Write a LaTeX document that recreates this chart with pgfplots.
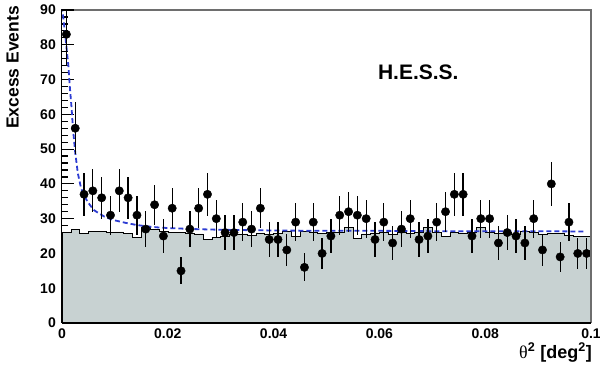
\documentclass[border=0pt]{standalone}
\usepackage{fontspec}
\setmainfont{Liberation Sans}
\newfontfamily\symfont{Liberation Serif}
\usepackage{pgfplots}
\pgfplotsset{compat=1.18}
\usepackage{pgfplotstable}
\usetikzlibrary{calc}

\definecolor{histfill}{RGB}{200,210,210}
\definecolor{fitblue}{RGB}{45,60,210}
\definecolor{baseline}{RGB}{200,90,90}
\definecolor{framegray}{RGB}{110,110,110}

\pgfplotstableread{
x y e
0.00083 83 9.1
0.00250 56 7.5
0.00417 37 6.1
0.00583 38 6.2
0.00750 36 6.0
0.00917 31 5.6
0.01083 38 6.2
0.01250 36 6.0
0.01417 31 5.6
0.01583 27 5.2
0.01750 34 5.8
0.01917 25 5.0
0.02083 33 5.7
0.02250 15 3.9
0.02417 27 5.2
0.02583 33 5.7
0.02750 37 6.1
0.02917 30 5.5
0.03083 26 5.1
0.03250 26 5.1
0.03417 29 5.4
0.03583 27 5.2
0.03750 33 5.7
0.03917 24 4.9
0.04083 24 4.9
0.04250 21 4.6
0.04417 29 5.4
0.04583 16 4.0
0.04750 29 5.4
0.04917 20 4.5
0.05083 25 5.0
0.05250 31 5.6
0.05417 32 5.7
0.05583 31 5.6
0.05750 30 5.5
0.05917 24 4.9
0.06083 29 5.4
0.06250 23 4.8
0.06417 27 5.2
0.06583 30 5.5
0.06750 24 4.9
0.06917 25 5.0
0.07083 29 5.4
0.07250 32 5.7
0.07417 37 6.1
0.07583 37 6.1
0.07750 25 5.0
0.07917 30 5.5
0.08083 30 5.5
0.08250 23 4.8
0.08417 26 5.1
0.08583 25 5.0
0.08750 23 4.8
0.08917 30 5.5
0.09083 21 4.6
0.09250 40 6.3
0.09417 19 4.4
0.09583 29 5.4
0.09750 20 4.5
0.09917 20 4.5
}\pts

\pgfplotstableread{
x y
0 26.0
0.00167 26.8
0.00333 25.8
0.005 26.4
0.00667 26.3
0.00833 26.0
0.01 26.2
0.01167 25.8
0.01333 24.6
0.015 27.6
0.01667 27.0
0.01833 26.3
0.02 26.1
0.02167 26.0
0.02333 25.7
0.025 25.6
0.02667 24.0
0.02833 24.6
0.03 25.0
0.03167 25.4
0.03333 25.6
0.035 25.3
0.03667 25.9
0.03833 25.6
0.04 25.8
0.04167 26.4
0.04333 24.8
0.045 26.3
0.04667 26.2
0.04833 25.8
0.05 26.0
0.05167 26.1
0.05333 27.6
0.055 24.4
0.05667 25.6
0.05833 25.9
0.06 26.1
0.06167 25.5
0.06333 26.0
0.065 25.8
0.06667 26.0
0.06833 27.5
0.07 26.0
0.07167 24.8
0.07333 26.0
0.075 25.9
0.07667 26.0
0.07833 27.6
0.08 26.1
0.08167 25.8
0.08333 26.0
0.085 25.5
0.08667 26.3
0.08833 26.0
0.09 25.6
0.09167 25.8
0.09333 25.9
0.095 25.2
0.09667 25.0
0.09833 24.8
0.1 24.8
}\hist

\pgfplotstableread{
x y
0 91
0.0003 87
0.0006 83
0.0009 78.5
0.0012 74
0.0015 67.5
0.0018 62
0.0021 55.5
0.0025 49
0.003 43
0.0035 39.5
0.004 37
0.005 34.5
0.006 32.5
0.007 31.5
0.008 30.6
0.009 30.0
0.010 29.5
0.012 28.8
0.014 28.2
0.016 27.8
0.018 27.5
0.020 27.3
0.025 27.0
0.030 26.8
0.040 26.6
0.050 26.5
0.060 26.5
0.070 26.4
0.080 26.4
0.090 26.4
0.099 26.3
}\fit

\begin{document}
\begin{tikzpicture}
\begin{axis}[
  scale only axis, width=529pt, height=313pt,
  xmin=0, xmax=0.1, ymin=0, ymax=90,
  axis line style={black, line width=1pt},
  scaled x ticks=false,
  xtick={0,0.02,0.04,0.06,0.08,0.1},
  xticklabels={0,0.02,0.04,0.06,0.08,0.1},
  ytick={0,10,20,30,40,50,60,70,80,90},
  major tick length=0pt,
  tick label style={font=\bfseries\fontsize{14}{14}\selectfont},
  /pgf/number format/assume math mode=true,
  yticklabel style={inner sep=0pt, xshift=-6pt},
  xticklabel style={inner sep=0pt, yshift=-6pt},
  axis on top=false,
]
\pgfplotsinvokeforeach{2,4,...,88}{
  \draw[black, line width=1.2pt] (axis cs:0,#1) -- ([xshift=6pt]axis cs:0,#1);
}
\pgfplotsinvokeforeach{10,20,...,80}{
  \draw[black, line width=1.2pt] (axis cs:0,#1) -- ([xshift=12pt]axis cs:0,#1);
}
\addplot[draw=black, line width=0.6pt, fill=histfill, const plot mark left] table[x=x,y=y]{\hist} \closedcycle;
\addplot[fitblue, line width=1.8pt, dash pattern=on 5pt off 3pt] table[x=x,y=y]{\fit};
\addplot[only marks, mark=*, mark size=4.2pt, black,
  error bars/.cd, y dir=both, y explicit,
  error bar style={line width=1.3pt, black}, error mark=none]
  table[x=x, y=y, y error=e]{\pts};
\coordinate (BL) at (rel axis cs:0,0);
\coordinate (TR) at (rel axis cs:1,1);
\coordinate (TL) at (rel axis cs:0,1);
\coordinate (BR) at (rel axis cs:1,0);
\coordinate (HESS) at (axis cs:0.0597,70.1);
\end{axis}
\draw[framegray, line width=1.2pt] (TL) -- (TR) -- (BR);
\draw[black, line width=1pt] (BL) -- (TL);
\draw[black, line width=1.2pt] (TL) -- ++(12pt,0);
\draw[baseline, line width=1.2pt] (BL) -- (BR);
\node[anchor=base west, inner sep=0pt, font=\bfseries\fontsize{21}{21}\selectfont] at (HESS) {H.E.S.S.};
\node[rotate=90, anchor=south east, inner sep=0pt, font=\bfseries\fontsize{17.5}{17.5}\selectfont] at ($(TL)+(-43pt,4pt)$) {Excess Events};
\node[anchor=north east, inner sep=0pt, font=\bfseries\fontsize{18}{18}\selectfont] at ($(BR)+(1pt,-20pt)$) {{\symfont\mdseries θ}\textsuperscript{2} [deg\textsuperscript{2}]};
\pgfresetboundingbox
\path[use as bounding box] ($(BL)+(-62pt,-43pt)$) rectangle ($(TR)+(9pt,10pt)$);
\end{tikzpicture}
\end{document}
